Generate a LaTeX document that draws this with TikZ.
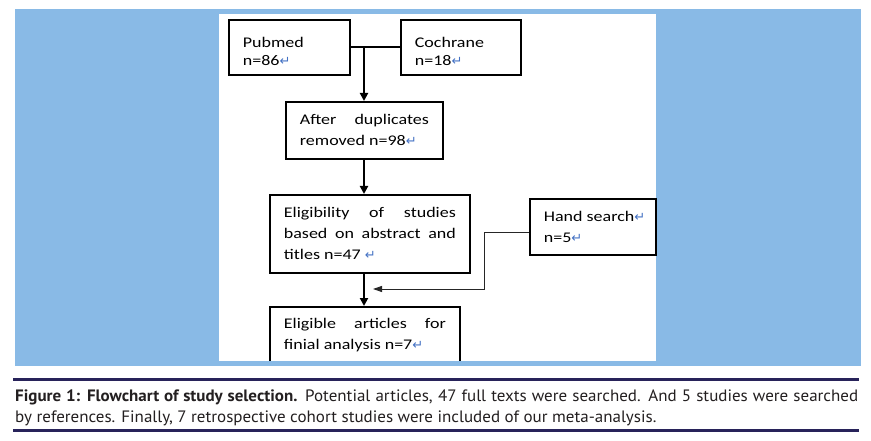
\documentclass[tikz,border=0pt]{standalone}
\usepackage{fontspec}
\usetikzlibrary{arrows.meta}
\newfontfamily\boxfont[FakeStretch=1.22]{Carlito}
\newfontfamily\capfont[FakeStretch=1.03]{PT Sans}
\newfontfamily\symfont{DejaVu Sans}
\definecolor{bgblue}{RGB}{137,186,230}
\definecolor{navy}{RGB}{40,35,90}
\definecolor{retblue}{RGB}{68,114,196}
\definecolor{captext}{RGB}{35,31,32}
\newcommand\ret{{\symfont\color{retblue}\fontsize{13}{13}\selectfont ↵}}
\tikzset{
  flowbox/.style={draw=black, line width=1.8pt, fill=white, anchor=north west,
    inner xsep=14pt, inner ysep=0pt, align=justify,
    font=\boxfont\fontsize{14.75}{21}\selectfont},
  mainarr/.style={draw=black, line width=2pt, -{Triangle[length=8pt,width=8pt]}},
  sidearr/.style={draw=black!85, line width=1pt, -{Triangle[length=9pt,width=6pt]}},
  rulebar/.style={navy, line width=3pt},
  capline/.style={anchor=base west, inner sep=0pt, text=captext,
    font=\capfont\fontsize{16.5}{21}\selectfont}
}
\begin{document}
\begin{tikzpicture}[x=1pt,y=-1pt]
\useasboundingbox (0,0) rectangle (871,441);
\fill[white] (0,0) rectangle (871,441);
\fill[bgblue] (15,9) rectangle (861,366);
\fill[white] (219,14) rectangle (656,361);
% boxes
\node[flowbox, minimum width=121pt, text width=93pt, minimum height=55pt,
  font=\boxfont\fontsize{14.75}{18}\selectfont] (pub) at (228,19) {\rule{0pt}{19pt}Pubmed\\n=86\ret};
\node[flowbox, minimum width=120pt, text width=92pt, minimum height=55pt,
  font=\boxfont\fontsize{14.75}{18}\selectfont] (coch) at (400,19) {\rule{0pt}{19pt}Cochrane\\n=18\ret};
\node[flowbox, minimum width=157pt, text width=129pt, minimum height=57pt] (after) at (285,101)
  {After duplicates\linebreak removed n=98\ret};
\node[flowbox, minimum width=200pt, text width=172pt, minimum height=78pt] (elig) at (269,194)
  {Eligibility of studies\linebreak based on abstract and\linebreak titles n=47 \ret};
\node[flowbox, minimum width=126pt, text width=98pt, minimum height=56pt] (hand) at (529,198)
  {\mbox{Hand search\ret}\\n=5\ret};
\node[flowbox, minimum width=190pt, text width=162pt, minimum height=57pt] (final) at (269,306)
  {Eligible articles for\linebreak finial analysis n=7\ret};
% connectors
\coordinate (j1) at (364,46.5);
\draw[line width=1.8pt] (pub.east) -- (coch.west);
\draw[mainarr] (j1) -- (j1 |- after.north);
\draw[mainarr] (j1 |- after.south) -- (j1 |- elig.north);
\draw[mainarr] (j1 |- elig.south) -- (j1 |- final.north);
\coordinate (bend) at (484,289);
\coordinate (tip) at (373,289);
\draw[sidearr] ([yshift=-6pt]hand.west) -| (bend) -- (tip);
% cover the clipped bottom of the last box
\fill[bgblue] (15,361) rectangle (861,366);
% caption
\draw[rulebar] (13,379.5) -- (859,379.5);
\draw[rulebar] (13,430.5) -- (859,430.5);
\node[capline] (cap1) at (15,401) {\makebox[843pt][s]{\textbf{Figure 1: Flowchart of study selection.} Potential articles, 47 full texts were searched. And 5 studies were searched}};
\node[capline] (cap2) at (15,422) {by references. Finally, 7 retrospective cohort studies were included of our meta-analysis.};
\end{tikzpicture}
\end{document}
